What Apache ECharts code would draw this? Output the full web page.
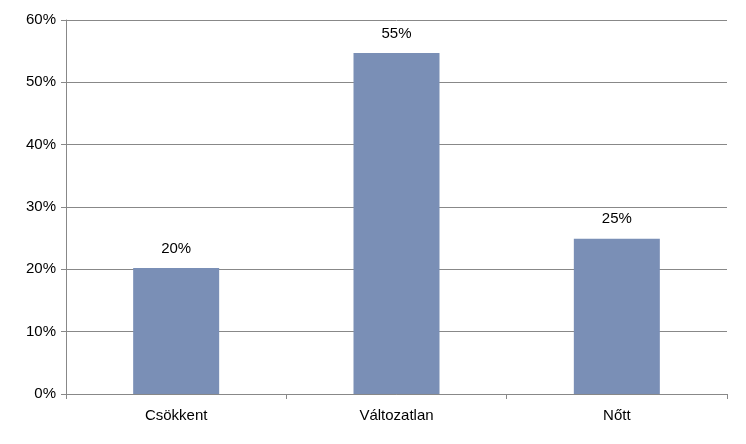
<!DOCTYPE html>
<html><head><meta charset="utf-8">
<script src="https://cdn.jsdelivr.net/npm/echarts@6/dist/echarts.min.js"></script>
<style>html,body{margin:0;padding:0;background:#fff}#c{width:746px;height:444px}</style>
</head><body><div id="c"></div>
<script>
const categories = ['Csökkent', 'Változatlan', 'Nőtt'];
const values = [20.2, 54.7, 24.9];
const labels = ['20%', '55%', '25%'];
const chart = echarts.init(document.getElementById('c'));
const font = 'Liberation Sans, Arial, sans-serif';
chart.setOption({
  animation: false,
  grid: {left: 66, right: 19, top: 20, bottom: 50},
  xAxis: {
    type: 'category', data: categories,
    axisLine: {lineStyle: {color: '#888', width: 1}},
    axisTick: {show: true, length: 5, lineStyle: {color: '#888'}},
    axisLabel: {color: '#000', fontSize: 15, fontFamily: font, margin: 14}
  },
  yAxis: {
    type: 'value', min: 0, max: 60, interval: 10,
    axisLine: {show: true, lineStyle: {color: '#888'}},
    axisTick: {show: true, length: 5, lineStyle: {color: '#888'}},
    splitLine: {lineStyle: {color: '#888', width: 1}},
    axisLabel: {color: '#000', fontSize: 15, fontFamily: font, formatter: '{value}%', margin: 10}
  },
  series: [{
    type: 'bar', data: values, barWidth: 86,
    itemStyle: {color: '#7a8fb6'},
    label: {show: true, position: 'top', distance: 12, color: '#000', fontSize: 15, fontFamily: font,
      formatter: p => labels[p.dataIndex]}
  }]
});
</script></body></html>
